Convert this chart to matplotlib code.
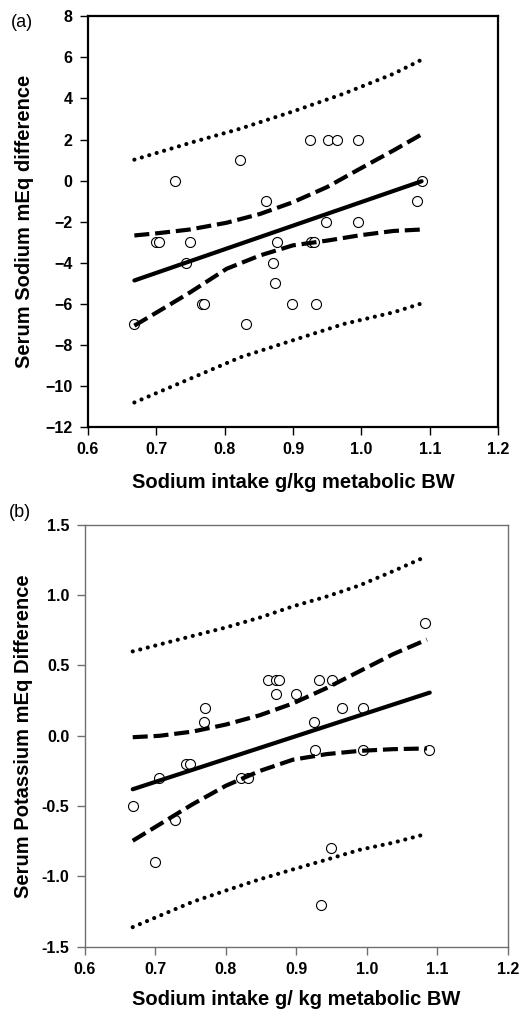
import matplotlib
matplotlib.use("Agg")
import matplotlib.pyplot as plt

plt.rcParams["font.family"] = ["Liberation Sans", "DejaVu Sans"]

# ---- panel (a): serum sodium ----
na_x = [0.925, 0.951, 0.964, 0.995, 0.822, 0.728, 1.088, 0.860, 1.082, 0.948,
        0.995, 0.700, 0.704, 0.749, 0.877, 0.926, 0.931, 0.744, 0.871, 0.874,
        0.767, 0.770, 0.899, 0.934, 0.668, 0.831]
na_y = [2, 2, 2, 2, 1, 0, 0, -1, -1, -2,
        -2, -3, -3, -3, -3, -3, -3, -4, -4, -5,
        -6, -6, -6, -6, -7, -7]

na_fit_x = [0.668, 1.088]
na_fit_y = [-4.86, -0.03]

na_ci_x = [0.668, 0.705, 0.749, 0.803, 0.852, 0.900, 0.950, 0.998, 1.047, 1.088]
na_ci_hi = [-2.67, -2.55, -2.38, -2.05, -1.62, -1.05, -0.31, 0.58, 1.47, 2.25]
na_ci_lo = [-7.06, -6.33, -5.45, -4.29, -3.64, -3.15, -2.92, -2.66, -2.45, -2.38]

na_pi_x = [0.668, 0.754, 0.823, 0.901, 0.974, 1.047, 1.086]
na_pi_hi = [1.02, 1.88, 2.53, 3.38, 4.23, 5.20, 5.85]
na_pi_lo = [-10.8, -9.58, -8.60, -7.76, -6.98, -6.41, -6.00]

# ---- panel (b): serum potassium ----
k_x = [1.082, 0.860, 0.871, 0.876, 0.932, 0.951, 0.871, 0.900, 0.770, 0.964,
       0.995, 0.769, 0.925, 0.927, 0.995, 1.088, 0.744, 0.749, 0.705, 0.822,
       0.832, 0.669, 0.728, 0.700, 0.949, 0.935]
k_y = [0.8, 0.4, 0.4, 0.4, 0.4, 0.4, 0.3, 0.3, 0.2, 0.2,
       0.2, 0.1, 0.1, -0.1, -0.1, -0.1, -0.2, -0.2, -0.3, -0.3,
       -0.3, -0.5, -0.6, -0.9, -0.8, -1.2]

k_fit_x = [0.668, 1.089]
k_fit_y = [-0.38, 0.307]

k_ci_x = [0.668, 0.706, 0.753, 0.800, 0.848, 0.895, 0.943, 0.990, 1.037, 1.085]
k_ci_hi = [-0.01, 0.00, 0.03, 0.08, 0.146, 0.23, 0.34, 0.46, 0.58, 0.684]
k_ci_lo = [-0.746, -0.63, -0.486, -0.355, -0.25, -0.17, -0.13, -0.107, -0.095, -0.09]

k_pi_x = [0.668, 0.753, 0.800, 0.848, 0.895, 0.943, 0.990, 1.037, 1.082]
k_pi_hi = [0.60, 0.71, 0.77, 0.84, 0.92, 0.99, 1.07, 1.17, 1.27]
k_pi_lo = [-1.36, -1.18, -1.10, -1.02, -0.95, -0.88, -0.81, -0.76, -0.70]


def draw_panel(ax, x, y, fx, fy, cx, chi, clo, px, phi, plo, spine_color, spine_w):
    ax.plot(px, phi, color="black", lw=3, dashes=(0.01, 1.85), dash_capstyle="round")
    ax.plot(px, plo, color="black", lw=3, dashes=(0.01, 1.85), dash_capstyle="round")
    ax.plot(cx, chi, color="black", lw=3, dashes=(3.6, 1.4))
    ax.plot(cx, clo, color="black", lw=3, dashes=(3.6, 1.4))
    ax.plot(fx, fy, color="black", lw=3, solid_capstyle="round")
    ax.plot(x, y, "o", ms=7.2, mfc="white", mec="black", mew=0.8, zorder=0)
    ax.set_xlim(0.6, 1.2)
    ax.set_xticks([0.6, 0.7, 0.8, 0.9, 1.0, 1.1, 1.2])
    ax.set_xticklabels(["0.6", "0.7", "0.8", "0.9", "1.0", "1.1", "1.2"])
    for s in ax.spines.values():
        s.set_color(spine_color)
        s.set_linewidth(spine_w)
    ax.tick_params(direction="out", length=6, width=1, color=spine_color,
                   labelsize=11.5, pad=5)
    for lab in ax.get_xticklabels() + ax.get_yticklabels():
        lab.set_fontweight("bold")


fig = plt.figure(figsize=(5.2, 10.17), dpi=100)

ax1 = fig.add_axes([0.169, 0.580, 0.789, 0.404])
draw_panel(ax1, na_x, na_y, na_fit_x, na_fit_y, na_ci_x, na_ci_hi, na_ci_lo,
           na_pi_x, na_pi_hi, na_pi_lo, "black", 1.6)
ax1.set_ylim(-12, 8)
ax1.set_yticks(range(-12, 9, 2))
for lab in ax1.get_yticklabels():
    lab.set_fontweight("bold")
ax1.set_xlabel("Sodium intake g/kg metabolic BW", fontsize=14.5, fontweight="bold", labelpad=11)
ax1.set_ylabel("Serum Sodium mEq difference", fontsize=14.5, fontweight="bold", labelpad=8)
fig.text(0.042, 0.978, "(a)", fontsize=13, ha="center", va="center")

ax2 = fig.add_axes([0.163, 0.069, 0.814, 0.415])
draw_panel(ax2, k_x, k_y, k_fit_x, k_fit_y, k_ci_x, k_ci_hi, k_ci_lo,
           k_pi_x, k_pi_hi, k_pi_lo, "#707070", 1.0)
ax2.set_ylim(-1.5, 1.5)
ax2.set_yticks([-1.5, -1.0, -0.5, 0.0, 0.5, 1.0, 1.5])
ax2.set_yticklabels(["-1.5", "-1.0", "-0.5", "0.0", "0.5", "1.0", "1.5"])
for lab in ax2.get_yticklabels():
    lab.set_fontweight("bold")
ax2.set_xlabel("Sodium intake g/ kg metabolic BW", fontsize=14.5, fontweight="bold", labelpad=9)
ax2.set_ylabel("Serum Potassium mEq Difference", fontsize=14.5, fontweight="bold", labelpad=6)
fig.text(0.038, 0.496, "(b)", fontsize=13, ha="center", va="center")

fig.savefig("out.png", dpi=100)
